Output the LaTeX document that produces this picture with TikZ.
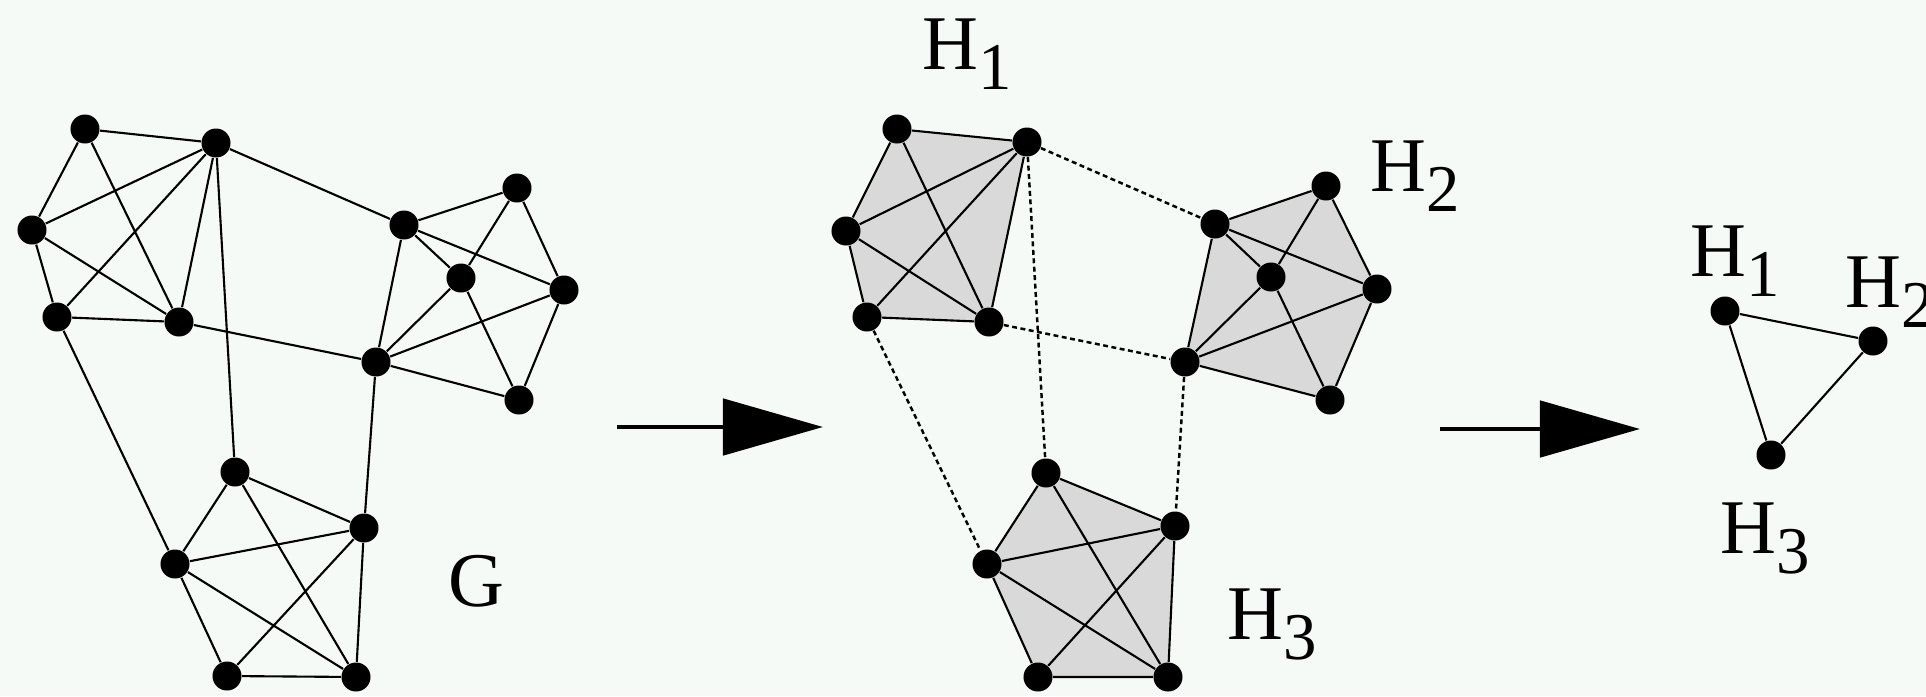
\documentclass[tikz,border=0pt]{standalone}
\usepackage{fontspec}
\setmainfont{Liberation Serif}
\usepackage{xcolor}
\usetikzlibrary{arrows.meta,backgrounds}

\definecolor{paper}{HTML}{F5FAF7}
\definecolor{hullgray}{HTML}{D9D9D9}
\newcommand{\Hlab}[1]{H\raisebox{-5.7pt}{\fontsize{19}{19}\selectfont #1}}

\begin{document}
\begin{tikzpicture}[
    x=0.01cm, y=-0.01cm,
    font=\fontsize{22}{26}\selectfont,
    vtx/.style={circle, fill=black, inner sep=0pt, minimum size=0.29cm},
    edge/.style={draw=black, line width=0.6pt},
    link/.style={draw=black, line width=0.7pt, dash pattern=on 1.4pt off 1pt},
    hull/.style={fill=hullgray},
    flow/.style={-{Triangle[length=1cm,width=0.56cm]}, line width=1.4pt},
    lab/.style={anchor=base west, inner sep=0pt}
]
\useasboundingbox (0,0) rectangle (1926,696);

% =========================================================
% Graph G
% =========================================================
\node[vtx] (ga1) at (85,129) {};
\node[vtx] (ga2) at (216,143) {};
\node[vtx] (ga3) at (32,230) {};
\node[vtx] (ga4) at (57,317) {};
\node[vtx] (ga5) at (179,322) {};

\node[vtx] (gb1) at (404,225) {};
\node[vtx] (gb2) at (517,188) {};
\node[vtx] (gb3) at (461,278) {};
\node[vtx] (gb4) at (564,290) {};
\node[vtx] (gb5) at (376,362) {};
\node[vtx] (gb6) at (519,400) {};

\node[vtx] (gc1) at (235,472) {};
\node[vtx] (gc2) at (364,528) {};
\node[vtx] (gc3) at (175,564) {};
\node[vtx] (gc4) at (227,676) {};
\node[vtx] (gc5) at (356,677) {};

\draw[edge] (ga1) -- (ga2) (ga1) -- (ga3) (ga1) -- (ga5) (ga2) -- (ga3) (ga2) -- (ga4)
            (ga2) -- (ga5) (ga3) -- (ga4) (ga3) -- (ga5) (ga4) -- (ga5);
\draw[edge] (gb1) -- (gb2) (gb1) -- (gb3) (gb1) -- (gb4) (gb1) -- (gb5) (gb2) -- (gb3)
            (gb2) -- (gb4) (gb3) -- (gb5) (gb3) -- (gb6) (gb4) -- (gb5) (gb4) -- (gb6)
            (gb5) -- (gb6);
\draw[edge] (gc1) -- (gc2) (gc1) -- (gc3) (gc1) -- (gc5) (gc2) -- (gc3) (gc2) -- (gc4)
            (gc2) -- (gc5) (gc3) -- (gc4) (gc3) -- (gc5) (gc4) -- (gc5);
% links between the clusters
\draw[edge] (ga2) -- (gb1) (ga5) -- (gb5) (ga2) -- (gc1) (ga4) -- (gc3) (gb5) -- (gc2);

\node[lab] (labG) at (448,606) {G};

% =========================================================
% Clusters H1, H2, H3
% =========================================================
\node[vtx] (ha1) at (897,129) {};
\node[vtx] (ha2) at (1027,142) {};
\node[vtx] (ha3) at (846,231) {};
\node[vtx] (ha4) at (867,317) {};
\node[vtx] (ha5) at (989,322) {};

\node[vtx] (hb1) at (1215,224) {};
\node[vtx] (hb2) at (1326,186) {};
\node[vtx] (hb3) at (1271,277) {};
\node[vtx] (hb4) at (1377,289) {};
\node[vtx] (hb5) at (1185,362) {};
\node[vtx] (hb6) at (1330,400) {};

\node[vtx] (hc1) at (1046,473) {};
\node[vtx] (hc2) at (1175,526) {};
\node[vtx] (hc3) at (987,564) {};
\node[vtx] (hc4) at (1038,677) {};
\node[vtx] (hc5) at (1168,677) {};

\begin{scope}[on background layer]
\fill[paper] (0,0) rectangle (1926,696);
\fill[hull] (ha1.center) -- (ha2.center) -- (ha5.center) -- (ha4.center) -- (ha3.center) -- cycle;
\fill[hull] (hb1.center) -- (hb2.center) -- (hb4.center) -- (hb6.center) -- (hb5.center) -- cycle;
\fill[hull] (hc1.center) -- (hc2.center) -- (hc5.center) -- (hc4.center) -- (hc3.center) -- cycle;
\end{scope}

\draw[edge] (ha1) -- (ha2) (ha1) -- (ha3) (ha1) -- (ha5) (ha2) -- (ha3) (ha2) -- (ha4)
            (ha2) -- (ha5) (ha3) -- (ha4) (ha3) -- (ha5) (ha4) -- (ha5);
\draw[edge] (hb1) -- (hb2) (hb1) -- (hb3) (hb1) -- (hb4) (hb1) -- (hb5) (hb2) -- (hb3)
            (hb2) -- (hb4) (hb3) -- (hb5) (hb3) -- (hb6) (hb4) -- (hb5) (hb4) -- (hb6)
            (hb5) -- (hb6);
\draw[edge] (hc1) -- (hc2) (hc1) -- (hc3) (hc1) -- (hc5) (hc2) -- (hc3) (hc2) -- (hc4)
            (hc2) -- (hc5) (hc3) -- (hc4) (hc3) -- (hc5) (hc4) -- (hc5);
% dashed links between the clusters
\draw[link] (ha2) -- (hb1) (ha5) -- (hb5) (ha2) -- (hc1) (ha4) -- (hc3) (hb5) -- (hc2);

\node[lab] (labHa) at (922,69) {\Hlab{1}};
\node[lab] (labHb) at (1370,191) {\Hlab{2}};
\node[lab] (labHc) at (1227,639) {\Hlab{3}};

% =========================================================
% Quotient graph
% =========================================================
\node[vtx] (r1) at (1725,311) {};
\node[vtx] (r2) at (1873,341) {};
\node[vtx] (r3) at (1771,455) {};

\draw[edge] (r1) -- (r2) (r2) -- (r3) (r3) -- (r1);

\node[lab] (labRa) at (1690,276) {\Hlab{1}};
\node[lab] (labRb) at (1845,307) {\Hlab{2}};
\node[lab] (labRc) at (1720,553) {\Hlab{3}};

% =========================================================
% Arrows
% =========================================================
\coordinate (fa) at (617,427);
\coordinate (fb) at (823,427);
\coordinate (fc) at (1440,429);
\coordinate (fd) at (1640,429);
\draw[flow] (fa) -- (fb);
\draw[flow] (fc) -- (fd);

\end{tikzpicture}
\end{document}
